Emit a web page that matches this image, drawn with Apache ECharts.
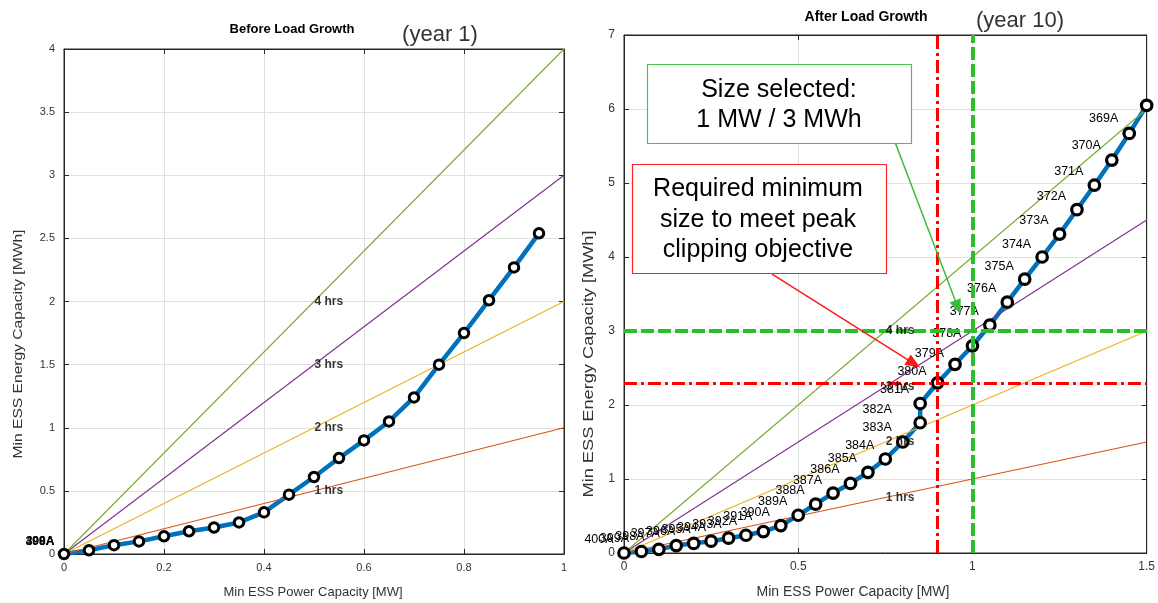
<!DOCTYPE html>
<html><head><meta charset="utf-8">
<script src="https://cdn.jsdelivr.net/npm/echarts@6/dist/echarts.min.js"></script>
<style>html,body{margin:0;padding:0;background:#fff}#c{width:1158px;height:603px}</style>
</head><body><div id="c"></div>
<script>
// ---------------- data ----------------
const leftX = [0,0.05,0.1,0.15,0.2,0.25,0.3,0.35,0.4,0.45,0.5,0.55,0.6,0.65,0.7,0.75,0.8,0.85,0.9,0.95];
const leftY = [0,0.03,0.07,0.10,0.14,0.18,0.21,0.25,0.33,0.47,0.61,0.76,0.90,1.05,1.24,1.50,1.75,2.01,2.27,2.54];
const leftStackedLabels = ['398A','399A','400A'];

const rightX = [0,0.05,0.1,0.15,0.2,0.25,0.3,0.35,0.4,0.45,0.5,0.55,0.6,0.65,0.7,0.75,0.8,0.85,0.85,0.9,0.95,1,1.05,1.1,1.15,1.2,1.25,1.3,1.35,1.4,1.45,1.5];
const rightY = [0,0.02,0.05,0.10,0.13,0.16,0.20,0.24,0.29,0.37,0.51,0.66,0.81,0.94,1.09,1.27,1.50,1.76,2.02,2.30,2.55,2.80,3.08,3.39,3.70,4.00,4.31,4.64,4.97,5.31,5.67,6.05];
const rightLabels = ['400A','399A','398A','397A','396A','395A','394A','393A','392A','391A','390A','389A','388A','387A','386A','385A','384A','383A','382A','381A','380A','379A','378A','377A','376A','375A','374A','373A','372A','371A','370A','369A'];

const hours = [1,2,3,4];
const hourNames = ['1 hrs','2 hrs','3 hrs','4 hrs'];
const hourColors = ['#D95319','#EDB120','#7E2F8E','#77AC30'];
const leftXMax = 1, rightXMax = 1.5;
const leftHrsLabelX = 0.5, rightHrsLabelX = 0.75;

const requiredMin = [0.9, 2.3];   // MW, MWh
const selectedSize = [1, 3];      // MW, MWh
const greenArrow = [[0.778,5.55],[0.958,3.32]];
const redArrow = [[0.425,3.77],[0.832,2.56]];

const leftTitle = 'Before Load Growth', rightTitle = 'After Load Growth';
const xTitle = 'Min ESS Power Capacity [MW]', yTitle = 'Min ESS Energy Capacity [MWh]';

// ---------------- helpers ----------------
const FONT = '"Liberation Sans", Arial, Helvetica, sans-serif';
const AX = '#262626', TXT = '#333333', GRID = '#e0e0e0';
function interp(knots, v){
  if (v <= knots[0][0]) return knots[0][1];
  for (let i=1;i<knots.length;i++){
    if (v <= knots[i][0]){
      const [x0,y0]=knots[i-1],[x1,y1]=knots[i];
      return y0+(y1-y0)*(v-x0)/(x1-x0);
    }
  }
  return knots[knots.length-1][1];
}
const dyKnots = [[0,-13],[0.4,-9],[0.5,-3],[1.1,-3],[1.5,4],[2.3,7],[3.4,9],[6.1,13]];
const dxOf = x => Math.max(-43, -25 - 40*x);

function mainX(grid, max, interval, fs){
  return {gridIndex:grid,type:'value',min:0,max:max,interval:interval,position:'bottom',
    axisLine:{show:true,onZero:false,lineStyle:{color:AX,width:1}},
    axisTick:{show:true,inside:true,length:5,lineStyle:{color:AX}},
    axisLabel:{color:TXT,fontSize:fs,margin:8,fontFamily:FONT},
    splitLine:{show:true,lineStyle:{color:GRID,width:1}}};
}
function mirrorX(grid,max,interval){
  return {gridIndex:grid,type:'value',min:0,max:max,interval:interval,position:'top',
    axisLine:{show:true,onZero:false,lineStyle:{color:AX,width:1}},
    axisTick:{show:true,inside:true,length:5,lineStyle:{color:AX}},
    axisLabel:{show:false},splitLine:{show:false}};
}
function mainY(grid,max,interval,fs){
  return {gridIndex:grid,type:'value',min:0,max:max,interval:interval,position:'left',
    axisLine:{show:true,onZero:false,lineStyle:{color:AX,width:1}},
    axisTick:{show:true,inside:true,length:5,lineStyle:{color:AX}},
    axisLabel:{color:TXT,fontSize:fs,margin:9,fontFamily:FONT},
    splitLine:{show:true,lineStyle:{color:GRID,width:1}}};
}
function mirrorY(grid,max,interval){
  return {gridIndex:grid,type:'value',min:0,max:max,interval:interval,position:'right',
    axisLine:{show:true,onZero:false,lineStyle:{color:AX,width:1}},
    axisTick:{show:true,inside:true,length:5,lineStyle:{color:AX}},
    axisLabel:{show:false},splitLine:{show:false}};
}

const series = [];
function addPanel(g, xs, ys, xMax, hrsX, symSize, bw, labelFn){
  hours.forEach((h,i)=>{
    series.push({type:'line',xAxisIndex:g*2,yAxisIndex:g*2,z:3,silent:true,symbol:'none',
      lineStyle:{color:hourColors[i],width:1.1},data:[[0,0],[xMax,h*xMax]]});
  });
  series.push({type:'line',xAxisIndex:g*2,yAxisIndex:g*2,z:2,symbol:'none',
    lineStyle:{color:'#0072BD',width:4.5},data:xs.map((x,i)=>[x,ys[i]])});
  series.push({type:'scatter',xAxisIndex:g*2,yAxisIndex:g*2,z:4,symbol:'circle',symbolSize:symSize,
    itemStyle:{color:'#ffffff',borderColor:'#000000',borderWidth:bw,opacity:1},
    data:xs.map((x,i)=>labelFn?labelFn(x,ys[i],i):[x,ys[i]])});
  series.push({type:'scatter',xAxisIndex:g*2,yAxisIndex:g*2,z:5,symbolSize:1,itemStyle:{color:'transparent'},
    label:{show:true,position:'right',distance:0,formatter:'{b}',color:'#000',fontWeight:'bold',
      fontSize:12,fontFamily:FONT},
    data:hours.map((h,i)=>({name:hourNames[i],value:[hrsX,h*hrsX]}))});
}

addPanel(0,leftX,leftY,leftXMax,leftHrsLabelX,9.5,3,null);
series.push({type:'scatter',xAxisIndex:0,yAxisIndex:0,z:6,symbolSize:1,itemStyle:{color:'transparent'},
  label:{show:true,position:'inside',offset:[-24,-12],formatter:'{b}',color:'#000',fontWeight:'bold',fontSize:12,fontFamily:FONT},
  data:leftStackedLabels.map(n=>({name:n,value:[leftX[0],leftY[0]]}))});

addPanel(1,rightX,rightY,rightXMax,rightHrsLabelX,10.5,3.2,(x,y,i)=>({
  name:rightLabels[i],value:[x,y],
  label:{show:true,position:'inside',offset:[dxOf(x),interp(dyKnots,y)],formatter:'{b}',
    color:'#000',fontSize:12.5,fontFamily:FONT}
}));

series.push({type:'line',xAxisIndex:2,yAxisIndex:2,z:7,data:[],silent:true,
  markLine:{silent:true,symbol:'none',animation:false,label:{show:false},
    data:[
      {xAxis:requiredMin[0],lineStyle:{color:'#FF0000',width:3,type:[13,4,3,4]}},
      {yAxis:requiredMin[1],lineStyle:{color:'#FF0000',width:3,type:[13,4,3,4]}},
      {xAxis:selectedSize[0],lineStyle:{color:'#2DBE2D',width:4,type:[13,4]}},
      {yAxis:selectedSize[1],lineStyle:{color:'#2DBE2D',width:4,type:[13,4]}}
    ]}});
series.push({type:'line',xAxisIndex:2,yAxisIndex:2,z:8,data:[],silent:true,
  markLine:{silent:true,animation:false,label:{show:false},symbol:['none','triangle'],symbolSize:[12,15],
    data:[
      [{coord:greenArrow[0],lineStyle:{color:'#3DBB3D',width:1.5,type:'solid'},itemStyle:{color:'#3DBB3D'}},{coord:greenArrow[1]}],
      [{coord:redArrow[0],lineStyle:{color:'#FF1A1A',width:1.5,type:'solid'},itemStyle:{color:'#FF1A1A'}},{coord:redArrow[1]}]
    ]}});

function txt(x,y,text,font,color,extra){
  return Object.assign({type:'text',z:100,x:x,y:y,style:{text:text,font:font,fill:color,align:'center',verticalAlign:'middle'}},extra||{});
}
const graphic = [
  txt(292,29,leftTitle,'bold 13px '+FONT,'#000'),
  txt(440,35,'(year 1)','22px '+FONT,'#333'),
  txt(866,17,rightTitle,'bold 14px '+FONT,'#000'),
  txt(1020,21,'(year 10)','22px '+FONT,'#333'),
  txt(313,592,xTitle,'13px '+FONT,TXT),
  txt(853,592,xTitle,'14px '+FONT,TXT),
  txt(18,344,yTitle,'13px '+FONT,TXT,{rotation:Math.PI/2,scaleX:1.2}),
  txt(589,364,yTitle,'14px '+FONT,TXT,{rotation:Math.PI/2,scaleX:1.3}),
  {type:'rect',z:90,shape:{x:647.5,y:64.5,width:264,height:79},style:{fill:'#fff',stroke:'#4CC24C',lineWidth:1.2}},
  txt(779,90,'Size selected:','25px '+FONT,'#000'),
  txt(779,120,'1 MW / 3 MWh','25px '+FONT,'#000'),
  {type:'rect',z:90,shape:{x:632.5,y:164.5,width:254,height:109},style:{fill:'#fff',stroke:'#FF2020',lineWidth:1.2}},
  txt(758,189,'Required minimum','25px '+FONT,'#000'),
  txt(758,220,'size to meet peak','25px '+FONT,'#000'),
  txt(758,250,'clipping objective','25px '+FONT,'#000')
];

const option = {
  animation:false,
  backgroundColor:'#ffffff',
  textStyle:{fontFamily:FONT},
  grid:[
    {left:64,top:49,width:500,height:505,show:true,borderColor:AX,borderWidth:1,backgroundColor:'#fff'},
    {left:624,top:35,width:528,height:518,show:true,borderColor:AX,borderWidth:1,backgroundColor:'#fff'}
  ],
  xAxis:[mainX(0,1,0.2,11),mirrorX(0,1,0.2),mainX(1,1.5,0.5,12),mirrorX(1,1.5,0.5)],
  yAxis:[mainY(0,4,0.5,11),mirrorY(0,4,0.5),mainY(1,7,1,12),mirrorY(1,7,1)],
  series:series,
  graphic:graphic
};
const chart = echarts.init(document.getElementById('c'),null,{renderer:'canvas'});
chart.setOption(option);
</script></body></html>
